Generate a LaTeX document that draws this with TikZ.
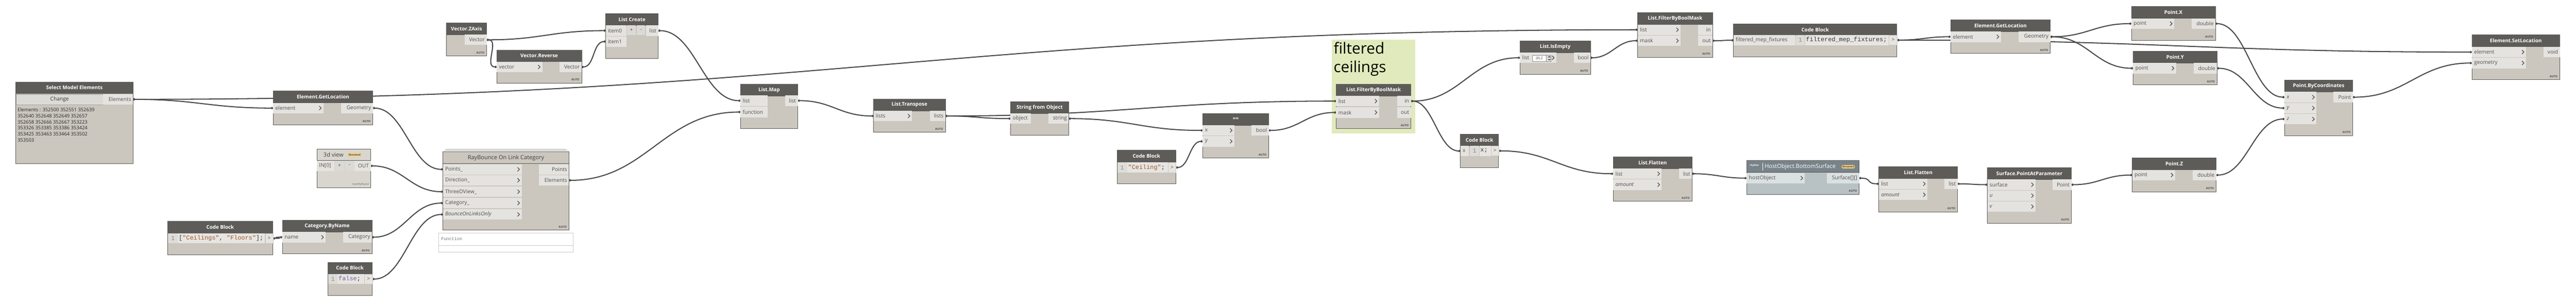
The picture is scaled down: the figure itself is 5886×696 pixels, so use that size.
\documentclass[tikz,border=0pt]{standalone}
\usepackage{fontspec}
\setmainfont{Open Sans}
\newfontfamily\monof{Liberation Mono}
\usetikzlibrary{arrows.meta,calc}
\pgfdeclarelayer{grp}
\pgfdeclarelayer{wires}
\pgfsetlayers{grp,wires,main}
\definecolor{headc}{HTML}{5E5C59}
\definecolor{bodyc}{HTML}{CBC6BE}
\definecolor{portc}{HTML}{E5E3DF}
\definecolor{bordc}{HTML}{5E5C59}
\definecolor{wirec}{HTML}{484848}
\definecolor{labc}{HTML}{4F4F4F}
\definecolor{grpc}{HTML}{E0EABC}
\definecolor{btnc}{HTML}{DCDAD6}
\definecolor{btnb}{HTML}{A8A59F}
\definecolor{rheadc}{HTML}{78838A}
\definecolor{rbodyc}{HTML}{B8C2C5}
\definecolor{rportc}{HTML}{DBE0E1}
\definecolor{pybodyc}{HTML}{D9D6D0}
\definecolor{badgec}{HTML}{FCD98A}
\definecolor{badgeb}{HTML}{E2A84A}
\definecolor{strc}{HTML}{9C5A2E}
\definecolor{kwc}{HTML}{7E57A8}
\definecolor{numc}{HTML}{8A8A8A}
\definecolor{cbnc}{HTML}{DEDCD8}
\definecolor{cbcc}{HTML}{E7E5E1}
\newcommand\fhead{\fontsize{11.5}{13}\selectfont\bfseries}
\newcommand\fport{\fontsize{12}{14}\selectfont}
\newcommand\fauto{\fontsize{6.5}{7}\selectfont\bfseries}
\newcommand\fcode{\monof\fontsize{14}{16}\selectfont}
\tikzset{
 nbody/.style={anchor=north west, fill=bodyc, draw=bordc, line width=0.8pt, inner sep=0pt, outer sep=0pt},
 nhead/.style={anchor=north west, fill=headc, draw=bordc, line width=0.8pt, inner sep=0pt, outer sep=0pt, minimum height=27pt, text=white, font=\fhead},
 pbg/.style={anchor=north west, fill=portc, inner sep=0pt, outer sep=0pt, minimum height=24pt},
 plab/.style={font=\fport, text=labc, inner sep=0pt},
 chev/.style={draw=labc, line width=1.5pt},
 autol/.style={font=\fauto, text=labc, inner sep=0pt, anchor=south east},
 wire/.style={draw=wirec, line width=2.4pt, {Circle[length=5pt]}-{Circle[length=5pt]}},
 btn/.style={anchor=north west, fill=btnc, inner sep=0pt, minimum width=19pt, minimum height=22pt, font=\fport, text=labc},
 cbnum/.style={anchor=north west, fill=cbnc, minimum height=23pt, inner sep=0pt, font=\fcode, text=numc},
 cbcode/.style={anchor=north west, fill=cbcc, minimum height=23pt, inner sep=0pt},
 cbtxt/.style={anchor=west, inner sep=0pt, font=\fcode, text=black!80},
 cbout/.style={anchor=north west, fill=cbcc, draw=bodyc, minimum height=23pt, inner sep=0pt, font=\fport, text=labc},
 badge/.style={fill=badgec, draw=badgeb, rounded corners=2pt, inner sep=1.5pt, font=\fontsize{6}{7}\selectfont\itshape\bfseries, text=black!75},
 grpbox/.style={anchor=north west, fill=grpc, inner sep=0pt},
}
\newcommand\DNode[6]{%
 \node[nbody, minimum width=#4pt, minimum height=#5pt] (#1) at (#2,#3) {};
 \node[nhead, minimum width=#4pt] (#1-h) at (#2,#3) {#6};}
\newcommand\InP[5]{%
 \node[pbg, minimum width=#4pt] (#1-bg) at (#2,#3) {};
 \node[plab, anchor=west] (#1-t) at ([xshift=5pt]#1-bg.west) {#5};
 \draw[chev] ([xshift=-7pt]#1-bg.east) +(-2.5,-4.5) -- +(2,0) -- +(-2.5,4.5);
 \coordinate (#1) at (#1-bg.west);}
\newcommand\InPna[5]{%
 \node[pbg, minimum width=#4pt] (#1-bg) at (#2,#3) {};
 \node[plab, anchor=west] (#1-t) at ([xshift=5pt]#1-bg.west) {#5};
 \coordinate (#1) at (#1-bg.west);}
\newcommand\OutP[5]{%
 \node[pbg, minimum width=#4pt, anchor=north east] (#1-bg) at (#2,#3) {};
 \node[plab, anchor=east] (#1-t) at ([xshift=-4pt]#1-bg.east) {#5};
 \coordinate (#1) at (#1-bg.east);}
\newcommand\AutoL[1]{\node[autol] (#1-auto) at ([xshift=-5pt,yshift=5pt]#1.south east) {AUTO};}
\newcommand\CodeRow[7]{%
 \node[cbnum, minimum width=#4pt] (#1-n) at (#2,#3) {1};
 \node[cbcode, minimum width=#5pt] (#1-c) at (#1-n.north east) {};
 \node[cbtxt] (#1-ct) at ([xshift=2pt]#1-c.west) {#7};
 \node[cbout, minimum width=#6pt] (#1-obg) at (#1-c.north east) {>};
 \coordinate (#1-o) at (#1-obg.east);}
\newcommand\W[2]{\draw[wire] let \p1=(#1), \p2=(#2) in (#1) .. controls +({max(0.45*(\x2-\x1),30pt)},0) and +({-1*max(0.45*(\x2-\x1),30pt)},0) .. (#2);}
\begin{document}
\begin{tikzpicture}[x=1pt,y=-1pt]
\useasboundingbox (0,0) rectangle (5886,696);
\begin{pgfonlayer}{grp}
\fill[white] (0,0) rectangle (5886,696);
\node[grpbox, minimum width=191pt, minimum height=214pt] (grp) at (3043,91) {};
\node[anchor=base west, inner sep=0pt, font=\fontsize{35}{42}\selectfont] (grp-t1) at (3047,123) {filtered};
\node[anchor=base west, inner sep=0pt, font=\fontsize{35}{42}\selectfont] (grp-t2) at (3047,165) {ceilings};
\end{pgfonlayer}

% Select Model Elements
\DNode{sel}{36}{187}{268}{186}{Select Model Elements}
\node[anchor=north west, fill=btnc, draw=btnb, minimum width=200pt, minimum height=24pt, inner sep=0pt, font=\fport, text=black!80] (sel-chg) at (36,215) {Change};
\OutP{sel-o}{304}{215}{68}{Elements}
\node[anchor=north west, inner sep=0pt, align=left, font=\fontsize{11}{14}\selectfont, text=black!85] (sel-txt) at (40,246) {Elements : 352500 352551 352639\\352640 352648 352649 352657\\352658 352666 352667 353223\\353326 353385 353386 353424\\353425 353463 353464 353502\\353503};

% Element.GetLocation (left)
\DNode{egl1}{624}{208}{228}{77}{Element.GetLocation}
\InP{egl1-i}{624}{235}{115}{element}
\OutP{egl1-o}{852}{235}{73}{Geometry}
\AutoL{egl1}

% Vector.ZAxis
\DNode{vz}{1020}{52}{92}{76}{Vector.ZAxis}
\OutP{vz-o}{1112}{79}{50}{Vector}
\AutoL{vz}

% Vector.Reverse
\DNode{vr}{1135}{114}{194}{76}{Vector.Reverse}
\InP{vr-i}{1135}{141}{104}{vector}
\OutP{vr-o}{1329}{141}{50}{Vector}
\AutoL{vr}

% List Create
\DNode{lc}{1384}{31}{120}{102}{List Create}
\InPna{lc-i0}{1384}{58}{47}{item0}
\InPna{lc-i1}{1384}{83}{47}{item1}
\node[btn] (lc-plus) at (1433,58) {+};
\node[btn] (lc-minus) at (1455,58) {-};
\OutP{lc-o}{1504}{58}{28}{list}

% 3d view
\node[nbody, fill=pybodyc, minimum width=123pt, minimum height=88pt] (tdv) at (724,341) {};
\draw[bordc, line width=0.8pt] (724,366) -- (847,366);
\node[text=black!75, font=\fontsize{13}{15}\selectfont, inner sep=0pt, anchor=west] (tdv-h) at (739,354) {3d view};
\node[badge, anchor=west] (tdv-b) at (795,354) {Renamed};
\InPna{tdv-i}{724}{367}{40}{IN[0]}
\node[btn] (tdv-plus) at (766,367) {+};
\node[btn] (tdv-minus) at (789,367) {-};
\OutP{tdv-o}{847}{367}{37}{OUT}
\node[autol, font=\fontsize{6.5}{7}\selectfont, text=black!60] (tdv-py) at ([xshift=-4pt,yshift=4pt]tdv.south east) {IronPython2};

% RayBounce On Link Category
\draw[bordc!40, line width=0.8pt] (1020,340.5) -- (1292,340.5);
\draw[bordc!60, line width=0.8pt] (1016,343.5) -- (1296,343.5);
\node[nbody, minimum width=288pt, minimum height=179pt] (rb) at (1012,347) {};
\draw[bordc, line width=0.8pt] (1012,374) -- (1300,374);
\node[text=black!75, font=\fontsize{13}{15}\selectfont, inner sep=0pt] (rb-h) at (1156,360.5) {RayBounce On Link Category};
\InP{rb-p}{1012}{375}{180}{Points\_}
\InP{rb-d}{1012}{400}{180}{Direction\_}
\InP{rb-t}{1012}{426}{180}{ThreeDView\_}
\InP{rb-c}{1012}{452}{180}{Category\_}
\InP{rb-b}{1012}{478}{180}{\textit{BounceOnLinksOnly}}
\OutP{rb-po}{1300}{375}{69}{Points}
\OutP{rb-eo}{1300}{400}{69}{Elements}
\AutoL{rb}
\node[anchor=north west, draw=black!20, fill=white, minimum width=307pt, minimum height=44pt, inner sep=0pt] (rb-fn) at (1002,532) {};
\draw[black!20] (1002,560) -- (1309,560);
\node[anchor=west, font=\monof\fontsize{10}{12}\selectfont, text=black!55, inner sep=0pt] (rb-fnt) at (1008,546) {Function};

% Code Block Ceilings/Floors
\DNode{cbcf}{383}{505}{240}{77}{Code Block}
\CodeRow{cbcf}{384}{533}{22}{199}{18}{[\textcolor{strc}{"Ceilings"}, \textcolor{strc}{"Floors"}];}

% Category.ByName
\DNode{cat}{645}{503}{205}{77}{Category.ByName}
\InP{cat-i}{645}{530}{99}{name}
\OutP{cat-o}{850}{530}{66}{Category}
\AutoL{cat}

% Code Block false
\DNode{cbfa}{749}{599}{101}{76}{Code Block}
\CodeRow{cbfa}{750}{626}{21}{61}{18}{\textcolor{kwc}{false};}

% List.Map
\DNode{lm}{1692}{192}{131}{102}{List.Map}
\InPna{lm-i1}{1692}{218}{62}{list}
\InPna{lm-i2}{1692}{244}{62}{function}
\OutP{lm-o}{1823}{218}{29}{list}

% List.Transpose
\DNode{lt}{1996}{226}{164}{76}{List.Transpose}
\InP{lt-i}{1996}{253}{88}{lists}
\OutP{lt-o}{2160}{253}{35}{lists}
\AutoL{lt}

% String from Object
\DNode{sfo}{2309}{232}{133}{77}{String from Object}
\InPna{sfo-i}{2309}{259}{47}{object}
\OutP{sfo-o}{2442}{259}{46}{string}

% Code Block Ceiling
\DNode{cbc}{2552}{343}{135}{76}{Code Block}
\CodeRow{cbc}{2553}{371}{22}{93}{18}{\textcolor{strc}{"Ceiling"};}

% ==
\DNode{eq}{2748}{259}{151}{102}{==}
\InP{eq-x}{2748}{286}{72}{x}
\InP{eq-y}{2748}{311}{72}{y}
\OutP{eq-o}{2899}{286}{40}{bool}
\AutoL{eq}

% List.FilterByBoolMask (filtered ceilings)
\DNode{fbm1}{3053}{192}{171}{102}{List.FilterByBoolMask}
\InP{fbm1-l}{3053}{219}{98}{list}
\InP{fbm1-m}{3053}{245}{98}{mask}
\OutP{fbm1-in}{3224}{219}{32}{in}
\OutP{fbm1-out}{3224}{245}{32}{out}
\AutoL{fbm1}

% Code Block x
\DNode{cbx}{3337}{307}{87}{76}{Code Block}
\InPna{cbx-i}{3337}{333}{19}{x}
\CodeRow{cbx}{3358}{333}{22}{26}{18}{x;}

% List.IsEmpty
\DNode{ie}{3473}{93}{161}{77}{List.IsEmpty}
\InPna{ie-i}{3473}{120}{83}{list}
\node[anchor=north west, fill=white, draw=black!45, line width=0.5pt, minimum width=32pt, minimum height=14pt, inner sep=0pt, font=\fontsize{8}{9}\selectfont, text=labc] (ie-lev) at (3501,126) {@L2};
\node[anchor=north west, fill=portc, draw=black!45, line width=0.5pt, minimum width=10pt, minimum height=14pt, inner sep=0pt] (ie-spin) at (3533,126) {};
\fill[labc] (3536,131) -- (3540,128) -- (3544,131) -- cycle;
\fill[labc] (3536,135) -- (3540,138) -- (3544,135) -- cycle;
\draw[chev] (3549,132) +(-2.5,-4.5) -- +(2,0) -- +(-2.5,4.5);
\OutP{ie-o}{3634}{120}{38}{bool}
\AutoL{ie}

% List.FilterByBoolMask 2
\DNode{fbm2}{3742}{29}{171}{102}{List.FilterByBoolMask}
\InP{fbm2-l}{3742}{56}{98}{list}
\InP{fbm2-m}{3742}{81}{98}{mask}
\OutP{fbm2-in}{3913}{56}{33}{in}
\OutP{fbm2-out}{3913}{81}{33}{out}
\AutoL{fbm2}

% Code Block filtered_mep_fixtures
\DNode{cbf}{3961}{54}{373}{76}{Code Block}
\InPna{cbf-i}{3961}{80}{141}{filtered\_mep\_fixtures}
\CodeRow{cbf}{4103}{80}{21}{191}{19}{filtered\_mep\_fixtures;}

% Element.GetLocation (right)
\DNode{egl2}{4457}{45}{228}{77}{Element.GetLocation}
\InP{egl2-i}{4457}{72}{115}{element}
\OutP{egl2-o}{4685}{72}{73}{Geometry}
\AutoL{egl2}

% Point.X / Point.Y / Point.Z
\DNode{ptx}{4870}{15}{192}{77}{Point.X}
\InP{ptx-i}{4870}{42}{98}{point}
\OutP{ptx-o}{5062}{42}{54}{double}
\AutoL{ptx}
\DNode{pty}{4874}{117}{192}{77}{Point.Y}
\InP{pty-i}{4874}{144}{98}{point}
\OutP{pty-o}{5066}{144}{54}{double}
\AutoL{pty}
\DNode{ptz}{4872}{361}{192}{77}{Point.Z}
\InP{ptz-i}{4872}{388}{98}{point}
\OutP{ptz-o}{5064}{388}{54}{double}
\AutoL{ptz}

% Point.ByCoordinates
\DNode{pbc}{5220}{183}{156}{127}{Point.ByCoordinates}
\InP{pbc-x}{5220}{210}{73}{\textit{x}}
\InP{pbc-y}{5220}{235}{73}{\textit{y}}
\InP{pbc-z}{5220}{260}{73}{\textit{z}}
\OutP{pbc-o}{5376}{210}{44}{Point}
\AutoL{pbc}

% Element.SetLocation
\DNode{esl}{5648}{79}{201}{103}{Element.SetLocation}
\InP{esl-e}{5648}{107}{124}{element}
\InP{esl-g}{5648}{132}{124}{geometry}
\OutP{esl-o}{5849}{107}{37}{void}
\AutoL{esl}

% List.Flatten 1
\DNode{lf1}{3686}{358}{180}{102}{List.Flatten}
\InP{lf1-l}{3686}{385}{111}{list}
\InP{lf1-a}{3686}{410}{111}{\textit{amount}}
\OutP{lf1-o}{3866}{385}{30}{list}
\AutoL{lf1}

% HostObject.BottomSurface
\begin{scope}
\tikzset{pbg/.append style={fill=rportc}}
\node[nbody, fill=rbodyc, minimum width=257pt, minimum height=77pt] (bs) at (3991,367) {};
\node[nhead, fill=rheadc, minimum width=257pt] (bs-h) at (3991,367) {};
\node[anchor=west, inner sep=0pt, text=white, font=\fontsize{5.5}{6}\selectfont\bfseries] (bs-r) at (3998,378) {rhythm};
\draw[white, line width=0.8pt] (4028,372) -- (4028,390);
\node[anchor=west, inner sep=0pt, text=white, font=\fontsize{13}{15}\selectfont] (bs-t) at (4032,381) {HostObject.BottomSurface};
\node[badge, anchor=west] (bs-b) at (4208,381) {Renamed};
\InP{bs-i}{3991}{395}{133}{hostObject}
\OutP{bs-o}{4248}{395}{74}{Surface[][]}
\AutoL{bs}
\end{scope}

% List.Flatten 2
\DNode{lf2}{4293}{381}{180}{103}{List.Flatten}
\InP{lf2-l}{4293}{408}{111}{list}
\InP{lf2-a}{4293}{433}{111}{\textit{amount}}
\OutP{lf2-o}{4473}{408}{30}{list}
\AutoL{lf2}

% Surface.PointAtParameter
\DNode{spp}{4541}{383}{192}{127}{Surface.PointAtParameter}
\InP{spp-s}{4541}{410}{110}{surface}
\InP{spp-u}{4541}{435}{110}{\textit{u}}
\InP{spp-v}{4541}{460}{110}{\textit{v}}
\OutP{spp-o}{4733}{410}{43}{Point}
\AutoL{spp}

% wires
\begin{pgfonlayer}{wires}
\W{sel-o}{egl1-i}
\W{sel-o}{fbm2-l}
\W{egl1-o}{rb-p}
\W{vz-o}{lc-i0}
\W{vz-o}{vr-i}
\W{vr-o}{lc-i1}
\W{lc-o}{lm-i1}
\W{rb-eo}{lm-i2}
\W{tdv-o}{rb-t}
\W{cbcf-o}{cat-i}
\W{cat-o}{rb-c}
\W{cbfa-o}{rb-b}
\W{lm-o}{lt-i}
\W{lt-o}{sfo-i}
\W{lt-o}{fbm1-l}
\W{sfo-o}{eq-x}
\W{cbc-o}{eq-y}
\W{eq-o}{fbm1-m}
\W{fbm1-in}{ie-i}
\W{fbm1-in}{cbx-i}
\W{ie-o}{fbm2-m}
\W{fbm2-out}{cbf-i}
\W{cbf-o}{egl2-i}
\W{cbf-o}{esl-e}
\W{egl2-o}{ptx-i}
\W{egl2-o}{pty-i}
\W{ptx-o}{pbc-x}
\W{pty-o}{pbc-y}
\W{ptz-o}{pbc-z}
\W{pbc-o}{esl-g}
\W{cbx-o}{lf1-l}
\W{lf1-o}{bs-i}
\W{bs-o}{lf2-l}
\W{lf2-o}{spp-s}
\W{spp-o}{ptz-i}
\end{pgfonlayer}
\end{tikzpicture}
\end{document}
